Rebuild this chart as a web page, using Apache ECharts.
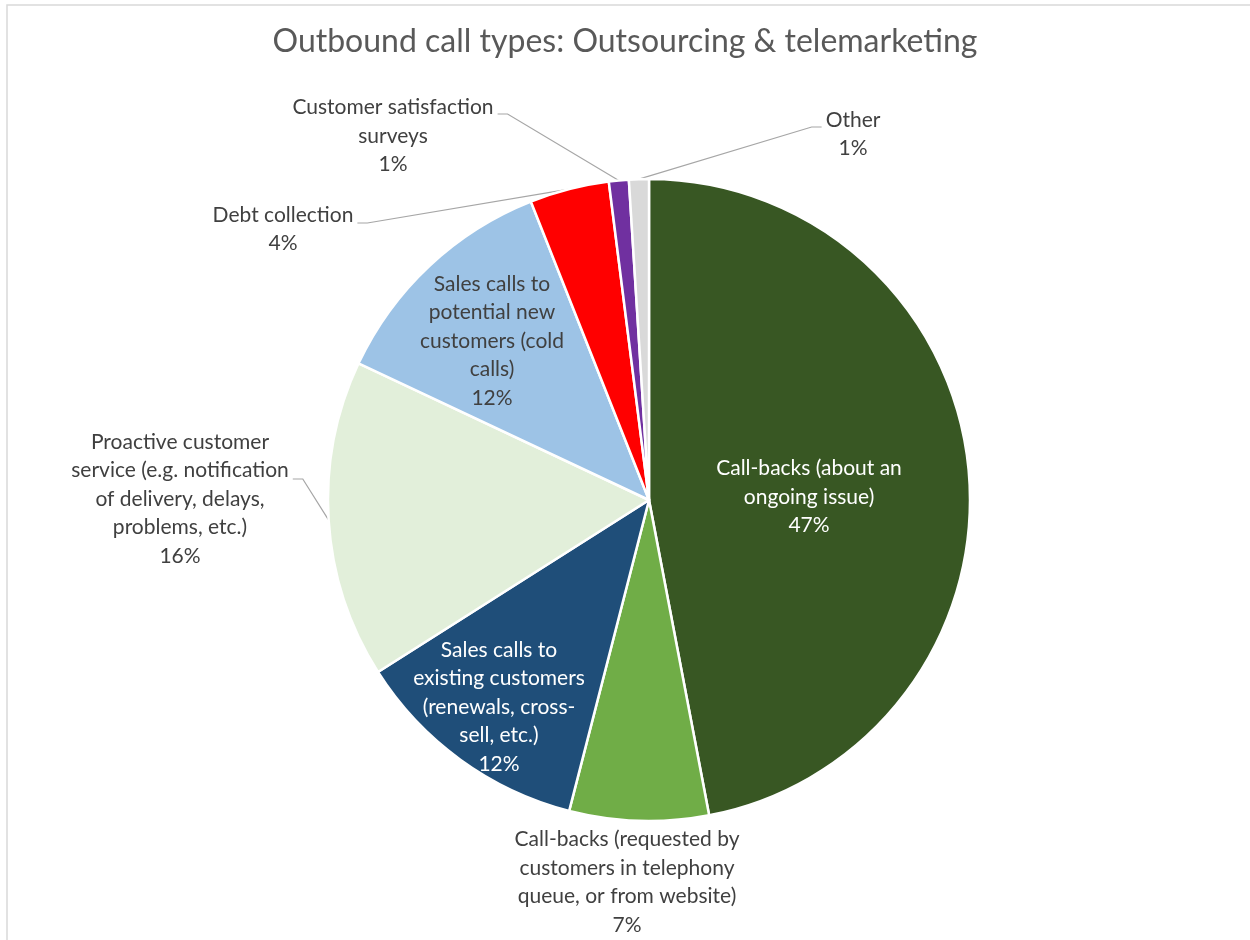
<!DOCTYPE html>
<html>
<head>
<meta charset="utf-8">
<title>Outbound call types</title>
<script src="https://cdn.jsdelivr.net/npm/echarts@6/dist/echarts.min.js"></script>
<style>
  html, body { margin: 0; padding: 0; background: #ffffff; }
  #chart { width: 1250px; height: 940px; }
</style>
</head>
<body>
<div id="chart"></div>
<script>
// Call categories (line breaks mark where each label wraps)
const categories = [
  'Call-backs (about an\nongoing issue)',
  'Call-backs (requested by\ncustomers in telephony\nqueue, or from website)',
  'Sales calls to\nexisting customers\n(renewals, cross-\nsell, etc.)',
  'Proactive customer\nservice (e.g. notification\nof delivery, delays,\nproblems, etc.)',
  'Sales calls to\npotential new\ncustomers (cold\ncalls)',
  'Debt collection',
  'Customer satisfaction\nsurveys',
  'Other'
];

// Share of outbound calls, percent
const shares = [47, 7, 12, 16, 12, 4, 1, 1];

const sliceColors = ['#385723', '#70AD47', '#1F4E79', '#E2EFDA', '#9DC3E6', '#FF0000', '#7030A0', '#D9D9D9'];

// Where each label block sits; 'lead' tells which side the leader line joins
const labelPlacement = [
  { x: 809, y: 497, inside: true, color: '#ffffff' },
  { x: 627, y: 882 },
  { x: 499, y: 707, inside: true, color: '#ffffff' },
  { x: 180, y: 499, lead: 'right', leadY: 479 },
  { x: 492, y: 341, inside: true },
  { x: 283, y: 229, lead: 'right', leadY: 223 },
  { x: 393, y: 136, lead: 'right', leadY: 114 },
  { x: 853, y: 134, lead: 'left', leadY: 127 }
];

const FONT = 'Lato, "Open Sans", "Noto Sans", sans-serif';

const seriesData = categories.map(function (name, i) {
  const spot = labelPlacement[i];
  return {
    name: name,
    value: shares[i],
    itemStyle: { color: sliceColors[i] },
    label: {
      position: spot.inside ? 'inside' : 'outside',
      color: spot.color || '#404040'
    },
    labelLine: { show: !!spot.lead }
  };
});

const chart = echarts.init(document.getElementById('chart'), null, { renderer: 'canvas' });

chart.setOption({
  backgroundColor: '#ffffff',
  animation: false,
  title: {
    text: 'Outbound call types: Outsourcing & telemarketing',
    left: 'center',
    top: 22,
    padding: [0, 0, 0, 11],
    textStyle: {
      fontFamily: FONT,
      fontSize: 32,
      fontWeight: 'normal',
      color: '#595959',
      lineHeight: 40
    }
  },
  graphic: [{
    type: 'rect',
    silent: true,
    z: -10,
    shape: { x: 7, y: 5, width: 1300, height: 1000 },
    style: { fill: 'none', stroke: '#d9d9d9', lineWidth: 1.5 }
  }],
  series: [{
    type: 'pie',
    center: [649, 500],
    radius: 321,
    startAngle: 90,
    clockwise: true,
    percentPrecision: 0,
    avoidLabelOverlap: false,
    itemStyle: { borderColor: '#ffffff', borderWidth: 2.5 },
    emphasis: { disabled: true },
    label: {
      show: true,
      formatter: '{b}\n{d}%',
      fontFamily: FONT,
      fontSize: 21,
      lineHeight: 28.5,
      align: 'center'
    },
    labelLine: {
      show: true,
      length: 10,
      length2: 10,
      lineStyle: { color: '#a6a6a6', width: 1.2 }
    },
    labelLayout: function (p) {
      const spot = labelPlacement[p.dataIndex];
      const out = { x: spot.x, y: spot.y, align: 'center', verticalAlign: 'middle' };
      if (spot.lead && p.labelLinePoints) {
        const half = p.labelRect.width / 2;
        const sideX = spot.lead === 'right' ? spot.x + half + 4 : spot.x - half - 4;
        const elbowX = spot.lead === 'right' ? sideX + 10 : sideX - 10;
        out.labelLinePoints = [p.labelLinePoints[0], [elbowX, spot.leadY], [sideX, spot.leadY]];
      }
      return out;
    },
    data: seriesData
  }]
});
</script>
</body>
</html>
